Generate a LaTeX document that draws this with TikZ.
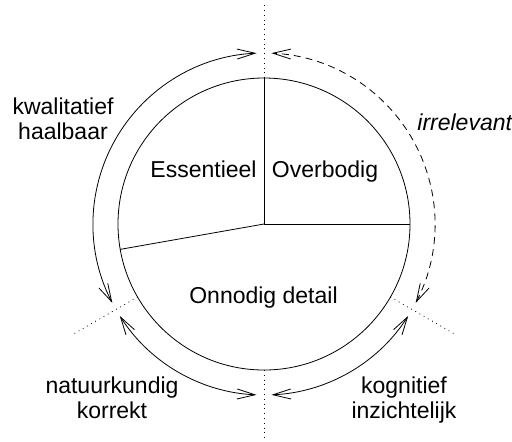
\documentclass[tikz,border=0pt]{standalone}
\usepackage{fontspec}
\setmainfont{Liberation Sans}
\usetikzlibrary{arrows.meta}
\begin{document}
\begin{tikzpicture}[x=0.5pt,y=0.5pt]
	\tikzset{>={Straight Barb[length=9pt,width=5pt]}}
	\tikzset{lbl/.style={font=\fontsize{11.5}{12.5}\selectfont,align=center,inner sep=0pt}}
	\tikzset{grens/.style={dotted}}
	\tikzset{irrpijl/.style={dash pattern=on 3.5pt off 2.5pt}}
	\useasboundingbox (-264,-217) rectangle (248,224);
	\coordinate (m) at (0,0);
	\draw (m) circle[radius=146];
	\draw (m) -- (90:146);
	\draw (m) -- (0:146);
	\draw (m) -- (190:146);
	\draw[grens] (90:146) -- (90:220);
	\draw[grens] (210:146) -- (210:222);
	\draw[grens] (270:146) -- (270:220);
	\draw[grens] (330:146) -- (330:222);
	\draw[<->] (92.5:171) arc[start angle=92.5,end angle=207.5,radius=171];
	\draw[<->] (212.5:171) arc[start angle=212.5,end angle=267.5,radius=171];
	\draw[<->] (272.5:171) arc[start angle=272.5,end angle=327.5,radius=171];
	\draw[<->,irrpijl] (-27.5:171) arc[start angle=-27.5,end angle=87.5,radius=171];
	\node[lbl,anchor=base] (ess) at (-60.5,47) {Essentieel};
	\node[lbl,anchor=base] (over) at (61,47) {Overbodig};
	\node[lbl,anchor=base] (onn) at (-0.5,-79) {Onnodig detail};
	\node[lbl] (kwal) at (-201,105) {kwalitatief\\haalbaar};
	\node[lbl] (natuur) at (-152,-174) {natuurkundig\\korrekt};
	\node[lbl] (kogn) at (140,-176) {kognitief\\inzichtelijk};
	\node[lbl,anchor=base west,font=\fontsize{11.5}{12.5}\selectfont\itshape] (irr) at (153,94) {irrelevant};
\end{tikzpicture}
\end{document}
